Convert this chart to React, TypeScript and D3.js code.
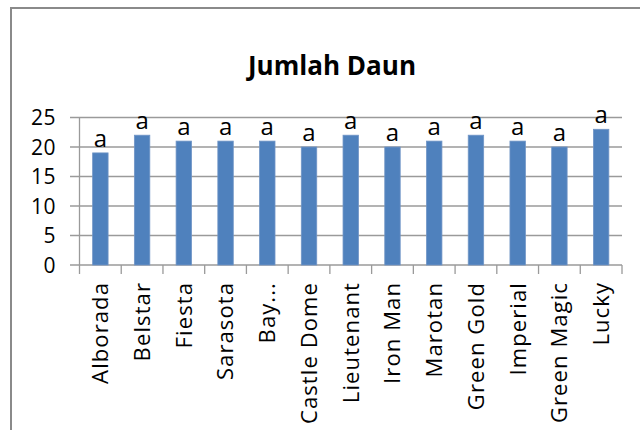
import React from "react";
import * as d3 from "d3";

const categories = [
  "Alborada", "Belstar", "Fiesta", "Sarasota", "Bay...", "Castle Dome",
  "Lieutenant", "Iron Man", "Marotan", "Green Gold", "Imperial", "Green Magic", "Lucky",
];
const values = [19, 22, 21, 21, 21, 20, 22, 20, 21, 22, 21, 20, 23];
const letters = ["a", "a", "a", "a", "a", "a", "a", "a", "a", "a", "a", "a", "a"];
const yTicks = [0, 5, 10, 15, 20, 25];
const title = "Jumlah  Daun";

const W = 640;
const H = 430;
const margin = { left: 79.5, right: 622, top: 117.5, bottom: 265 };
const FONT = "'Open Sans', 'Liberation Sans', sans-serif";

export default function App() {
  const x = d3.scaleBand<string>().domain(categories).range([margin.left, margin.right]).paddingInner(0).paddingOuter(0);
  const y = d3.scaleLinear().domain([0, 25]).range([margin.bottom, margin.top]);
  const bw = x.bandwidth() * 0.37;
  const boundaries = [...categories.map((c) => x(c) as number), margin.right];

  return (
    <svg width={W} height={H} style={{ position: "absolute", left: 0, top: 0, background: "#fff" }} fontFamily={FONT}>
      <rect x={0} y={0} width={W} height={H} fill="#fff" />
      <rect x={11} y={8} width={720} height={520} fill="none" stroke="#8a8a8a" strokeWidth={2} />
      <text x={332} y={75} textAnchor="middle" fontSize={26} fontWeight="bold" fill="#000" textLength={168} lengthAdjust="spacingAndGlyphs">
        {title}
      </text>
      {yTicks.map((t) => (
        <g key={t}>
          <line x1={70} x2={margin.right} y1={y(t)} y2={y(t)} stroke="#9a9a9a" strokeWidth={1.3} />
          <text x={56} y={y(t)} dy="0.36em" textAnchor="end" fontSize={21} letterSpacing={0.5} fill="#000">
            {t}
          </text>
        </g>
      ))}
      <line x1={margin.left} x2={margin.left} y1={margin.top} y2={margin.bottom} stroke="#9a9a9a" strokeWidth={1.3} />
      {boundaries.map((bx, i) => (
        <line key={i} x1={bx} x2={bx} y1={margin.bottom} y2={margin.bottom + 9} stroke="#9a9a9a" strokeWidth={1.3} />
      ))}
      {categories.map((c, i) => {
        const cx = (x(c) as number) + x.bandwidth() / 2;
        return (
          <g key={c}>
            <rect x={cx - bw / 2} y={y(values[i])} width={bw} height={y(0) - y(values[i])} fill="#4f81bd" stroke="#7095c6" strokeWidth={0.8} />
            <text x={cx} y={y(values[i]) - 6} textAnchor="middle" fontSize={24} fill="#000">
              {letters[i]}
            </text>
            <text
              transform={`translate(${cx},${margin.bottom + 17}) rotate(-90)`}
              textAnchor="end"
              dy="0.36em"
              fontSize={22}
              letterSpacing={1.1}
              fill="#000"
            >
              {c}
            </text>
          </g>
        );
      })}
    </svg>
  );
}
